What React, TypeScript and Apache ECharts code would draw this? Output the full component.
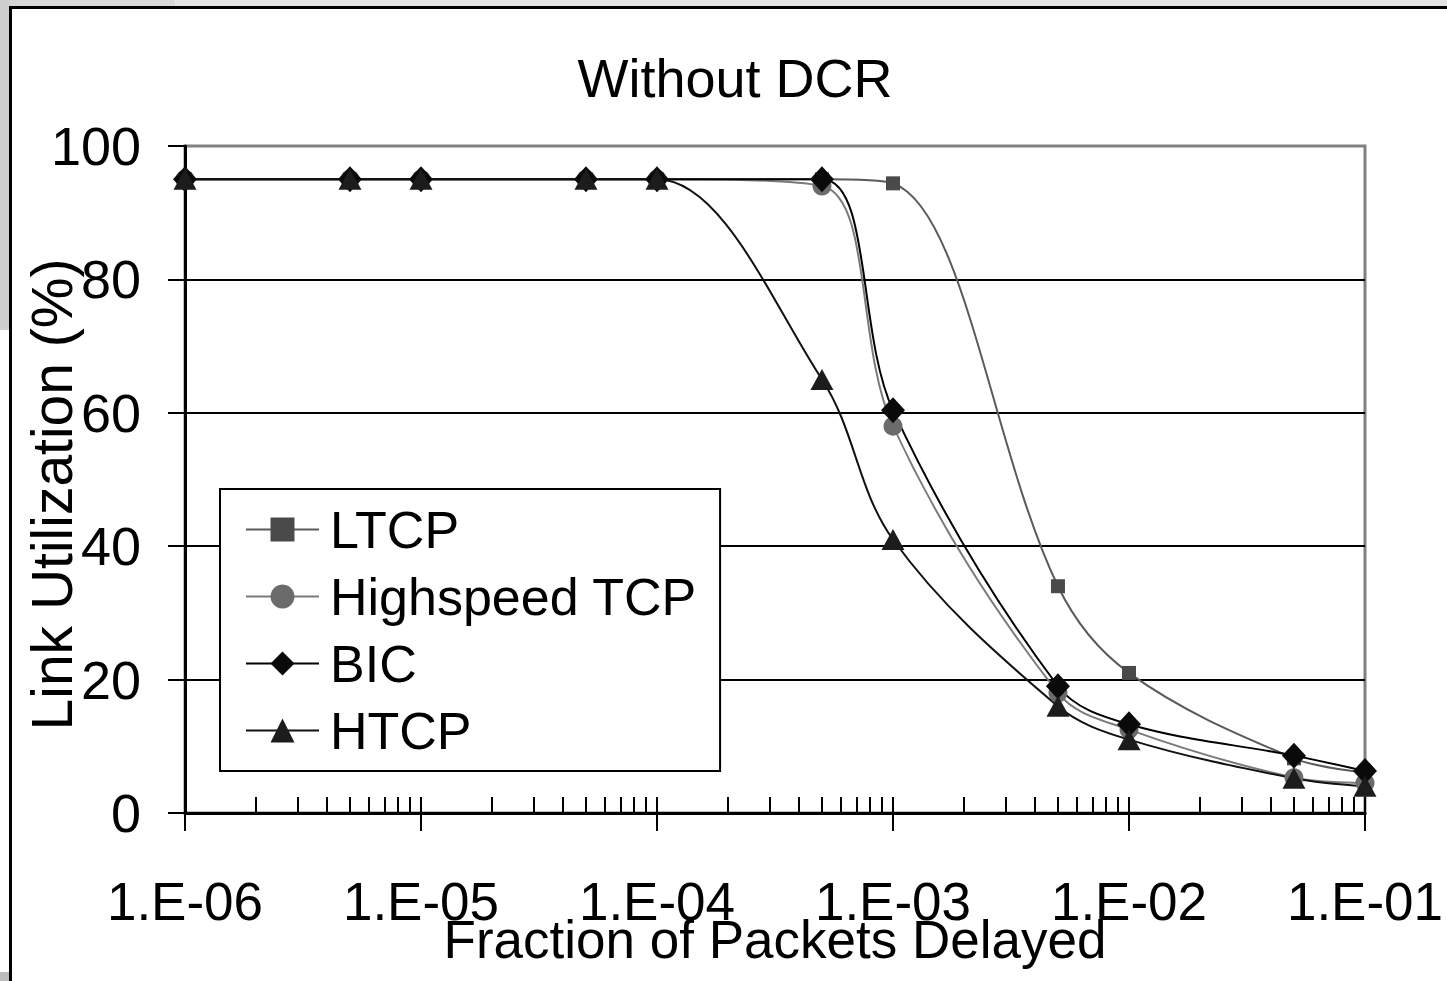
import React, { useEffect, useRef } from "react";
import * as echarts from "echarts";

const xValues = [1e-6, 5e-6, 1e-5, 5e-5, 1e-4, 5e-4, 1e-3, 5e-3, 1e-2, 5e-2, 1e-1];
const seriesNames = ["LTCP", "Highspeed TCP", "BIC", "HTCP"];
const ltcp = [95, 95, 95, 95, 95, 95, 94.4, 34, 21, 8.2, 6.1];
const hstcp = [95, 95, 95, 95, 95, 94, 58, 18, 12.5, 5.3, 4.5];
const bic = [95, 95, 95, 95, 95, 95, 60.4, 19, 13.3, 8.6, 6.3];
const htcp = [95, 95, 95, 95, 95, 65, 41, 16, 11, 5.2, 4];
const majorTicks = [1e-6, 1e-5, 1e-4, 1e-3, 1e-2, 1e-1];
const minorMultipliers = [1, 2, 3, 4, 5, 6, 7, 8, 9];
const yTicks = [0, 20, 40, 60, 80, 100];

const FONT = "'Liberation Sans', Arial, sans-serif";

function pairs(ys: number[]) {
  return xValues.map((x, i) => [x, ys[i]]);
}

const allTicks: number[] = [];
majorTicks.slice(0, -1).forEach((d) => {
  minorMultipliers.forEach((m) => allTicks.push(Number((d * m).toPrecision(3))));
});
allTicks.push(majorTicks[majorTicks.length - 1]);

function fmt(v: number) {
  const e = Math.round(Math.log10(v));
  const a = Math.abs(e);
  return "1.E" + (e < 0 ? "-" : "+") + (a < 10 ? "0" + a : String(a));
}

export default function App() {
  const ref = useRef<HTMLDivElement>(null);
  useEffect(() => {
    if (!ref.current) return;
    const chart = echarts.init(ref.current, undefined, { renderer: "svg" });
    const lineW = 2;
    const mk = (
      name: string,
      data: number[],
      symbol: string,
      size: number | number[],
      lineColor: string,
      markColor: string
    ) => ({
      name,
      type: "line",
      data: pairs(data),
      smooth: 0.35,
      symbol,
      symbolSize: size,
      showSymbol: true,
      lineStyle: { color: lineColor, width: lineW },
      itemStyle: { color: markColor, borderWidth: 0 },
      emphasis: { disabled: true },
    });
    chart.setOption({
      animation: false,
      backgroundColor: "transparent",
      textStyle: { fontFamily: FONT },
      title: {
        text: "Without DCR",
        left: 730,
        top: 46,
        textAlign: "center",
        textStyle: { fontFamily: FONT, fontSize: 54, fontWeight: "normal", color: "#000" },
      },
      grid: {
        left: 185,
        right: 82,
        top: 146,
        bottom: 168,
        containLabel: false,
        outerBoundsMode: "none",
        show: true,
        borderColor: "#808080",
        borderWidth: 3,
        backgroundColor: "transparent",
      },
      legend: {
        orient: "vertical",
        left: 220,
        top: 489,
        padding: [7, 23, 7, 25],
        itemGap: 0,
        itemWidth: 73,
        itemHeight: 30,
        backgroundColor: "#fff",
        borderColor: "#000",
        borderWidth: 2,
        borderRadius: 0,
        textStyle: { fontFamily: FONT, fontSize: 52, color: "#000", lineHeight: 67, padding: [0, 0, 0, 6] },
        data: seriesNames,
      },
      xAxis: [
        {
          type: "log",
          logBase: 10,
          min: 1e-6,
          max: 0.1,
          position: "bottom",
          axisLine: { show: true, lineStyle: { color: "#000", width: 3 } },
          axisTick: { show: true, inside: false, length: 18, lineStyle: { color: "#000", width: 2 } },
          axisLabel: {
            show: true,
            formatter: (v: number) => fmt(v),
            fontFamily: FONT,
            fontSize: 53,
            color: "#000",
            margin: 62,
          },
          splitLine: { show: false },
          minorTick: { show: false },
          name: "Fraction of Packets Delayed",
          nameLocation: "middle",
          nameGap: 100,
          nameMoveOverlap: false,
          nameTextStyle: { fontFamily: FONT, fontSize: 53, color: "#000" },
        },
        {
          type: "log",
          logBase: 10,
          min: 1e-6,
          max: 0.1,
          position: "bottom",
          axisLine: { show: false },
          axisTick: {
            show: true,
            inside: true,
            length: 16,
            customValues: allTicks,
            lineStyle: { color: "#000", width: 2 },
          },
          axisLabel: { show: false },
          splitLine: { show: false },
        },
      ],
      yAxis: {
        type: "value",
        min: 0,
        max: 100,
        interval: 20,
        axisLine: { show: true, lineStyle: { color: "#000", width: 3 } },
        axisTick: { show: true, inside: false, length: 17, lineStyle: { color: "#000", width: 2 } },
        axisLabel: {
          fontFamily: FONT,
          fontSize: 54,
          color: "#000",
          margin: 44,
          customValues: yTicks,
        },
        splitLine: { show: true, showMaxLine: false, lineStyle: { color: "#000", width: 2 } },
        name: "Link Utilization (%)",
        nameLocation: "middle",
        nameGap: 105,
        nameMoveOverlap: false,
        nameRotate: 90,
        nameTextStyle: { fontFamily: FONT, fontSize: 57, color: "#000", padding: [0, 30, 0, 0] },
        z: 1,
      },
      series: [
        mk("LTCP", ltcp, "rect", 14, "#5a5a5a", "#4a4a4a"),
        mk("Highspeed TCP", hstcp, "circle", 19, "#7a7a7a", "#6b6b6b"),
        mk("BIC", bic, "diamond", [24, 26], "#000", "#0a0a0a"),
        mk("HTCP", htcp, "triangle", [23, 21], "#111", "#1c1c1c"),
      ],
    });
    return () => chart.dispose();
  }, []);

  return (
    <div style={{ position: "absolute", left: 0, top: 0, width: 1447, height: 981, overflow: "hidden", background: "#fff" }}>
      <div style={{ position: "absolute", left: 0, top: 0, width: 1447, height: 7, background: "#e4e4e4" }} />
      <div style={{ position: "absolute", left: 0, top: 0, width: 175, height: 7, background: "#d8d8d8" }} />
      <div style={{ position: "absolute", left: 0, top: 0, width: 10, height: 330, background: "#cfcfcf" }} />
      <div style={{ position: "absolute", left: 0, top: 972, width: 10, height: 9, background: "#bdbdbd" }} />
      <div
        style={{
          position: "absolute",
          left: 9,
          top: 6,
          width: 1500,
          height: 1000,
          borderLeft: "3px solid #000",
          borderTop: "3px solid #000",
          background: "#fff",
        }}
      />
      <div ref={ref} style={{ position: "absolute", left: 0, top: 0, width: 1447, height: 981 }} />
    </div>
  );
}
